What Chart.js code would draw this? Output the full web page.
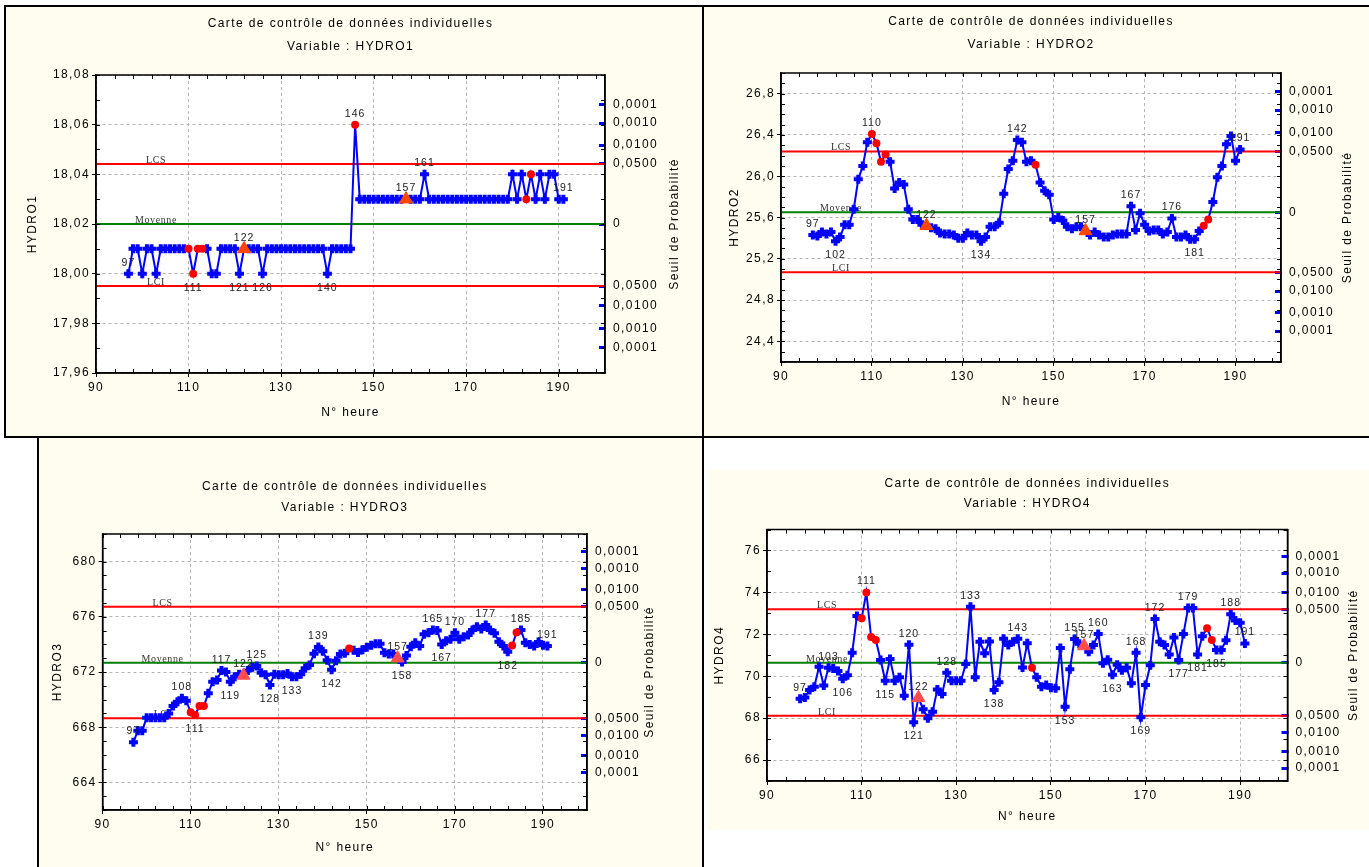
<!DOCTYPE html>
<html>
<head>
<meta charset="utf-8">
<script src="https://cdn.jsdelivr.net/npm/chart.js@4.4.1/dist/chart.umd.min.js"></script>
<style>
  html, body { margin: 0; padding: 0; background: #fff; }
  #page { position: relative; width: 1369px; height: 867px; overflow: hidden; }
  .cell { position: absolute; background: #fffdf0; }
  .rule { position: absolute; background: #000; }
  canvas { position: absolute; left: 0; top: 0; }
</style>
</head>
<body>
<div id="page">
  <div class="cell" style="left:5px;top:6px;width:698px;height:431px"></div>
  <div class="cell" style="left:703px;top:6px;width:666px;height:431px"></div>
  <div class="cell" style="left:38px;top:437px;width:665px;height:430px"></div>
  <div class="cell" style="left:708px;top:470px;width:661px;height:360px"></div>
  <div class="rule" style="left:5px;top:5px;width:1364px;height:2px"></div>
  <div class="rule" style="left:4px;top:5px;width:2px;height:433px"></div>
  <div class="rule" style="left:702px;top:5px;width:2px;height:862px"></div>
  <div class="rule" style="left:4px;top:436px;width:1365px;height:2px"></div>
  <div class="rule" style="left:37px;top:436px;width:2px;height:431px"></div>
  <canvas id="c1" width="1369" height="867"></canvas>
  <canvas id="c2" width="1369" height="867"></canvas>
  <canvas id="c3" width="1369" height="867"></canvas>
  <canvas id="c4" width="1369" height="867"></canvas>
</div>
<script>
// N° heure (categories)
const hours = [
  97, 98, 99, 100, 101, 102, 103, 104, 105, 106,
  107, 108, 109, 110, 111, 112, 113, 114, 115, 116,
  117, 118, 119, 120, 121, 122, 123, 124, 125, 126,
  127, 128, 129, 130, 131, 132, 133, 134, 135, 136,
  137, 138, 139, 140, 141, 142, 143, 144, 145, 146,
  147, 148, 149, 150, 151, 152, 153, 154, 155, 156,
  157, 158, 159, 160, 161, 162, 163, 164, 165, 166,
  167, 168, 169, 170, 171, 172, 173, 174, 175, 176,
  177, 178, 179, 180, 181, 182, 183, 184, 185, 186,
  187, 188, 189, 190, 191
];

const hydro1 = [
  18.00, 18.01, 18.01, 18.00, 18.01, 18.01, 18.00, 18.01, 18.01, 18.01,
  18.01, 18.01, 18.01, 18.01, 18.00, 18.01, 18.01, 18.01, 18.00, 18.00,
  18.01, 18.01, 18.01, 18.01, 18.00, 18.01, 18.01, 18.01, 18.01, 18.00,
  18.01, 18.01, 18.01, 18.01, 18.01, 18.01, 18.01, 18.01, 18.01, 18.01,
  18.01, 18.01, 18.01, 18.00, 18.01, 18.01, 18.01, 18.01, 18.01, 18.06,
  18.03, 18.03, 18.03, 18.03, 18.03, 18.03, 18.03, 18.03, 18.03, 18.03,
  18.03, 18.03, 18.03, 18.03, 18.04, 18.03, 18.03, 18.03, 18.03, 18.03,
  18.03, 18.03, 18.03, 18.03, 18.03, 18.03, 18.03, 18.03, 18.03, 18.03,
  18.03, 18.03, 18.03, 18.04, 18.03, 18.04, 18.03, 18.04, 18.03, 18.04,
  18.03, 18.04, 18.04, 18.03, 18.03
];

const hydro2 = [
  25.43, 25.42, 25.46, 25.44, 25.46, 25.37, 25.41, 25.53, 25.53, 25.68,
  25.97, 26.10, 26.33, 26.41, 26.32, 26.14, 26.21, 26.14, 25.88, 25.94,
  25.92, 25.68, 25.58, 25.58, 25.53, 25.52, 25.50, 25.49, 25.45, 25.44,
  25.44, 25.43, 25.40, 25.40, 25.45, 25.43, 25.43, 25.37, 25.41, 25.51,
  25.51, 25.55, 25.83, 26.07, 26.15, 26.35, 26.33, 26.14, 26.15, 26.11,
  25.94, 25.86, 25.82, 25.58, 25.60, 25.57, 25.51, 25.49, 25.51, 25.51,
  25.47, 25.43, 25.46, 25.43, 25.41, 25.41, 25.43, 25.44, 25.44, 25.44,
  25.71, 25.48, 25.64, 25.53, 25.47, 25.48, 25.48, 25.44, 25.46, 25.59,
  25.41, 25.41, 25.43, 25.39, 25.39, 25.47, 25.52, 25.58, 25.75, 25.99,
  26.10, 26.31, 26.39, 26.15, 26.26
];

const hydro3 = [
  666.91, 667.75, 667.75, 668.69, 668.69, 668.69, 668.69, 668.69, 669.00, 669.54,
  669.85, 670.09, 669.92, 669.08, 668.88, 669.54, 669.54, 670.46, 671.30, 671.42,
  672.10, 672.00, 671.30, 671.66, 671.83, 671.75, 672.10, 672.34, 672.43, 671.95,
  671.80, 671.06, 671.83, 671.80, 671.80, 671.90, 671.66, 671.66, 671.83, 672.27,
  672.51, 673.32, 673.81, 673.51, 672.85, 672.17, 672.81, 673.30, 673.35, 673.71,
  673.57, 673.41, 673.62, 673.79, 673.93, 674.05, 674.05, 673.40, 673.30, 673.30,
  673.00, 672.72, 673.20, 673.83, 674.12, 673.88, 674.73, 674.85, 675.04, 675.00,
  674.00, 674.27, 674.37, 674.85, 674.37, 674.56, 674.68, 675.04, 675.28, 675.12,
  675.41, 675.04, 674.80, 674.20, 673.88, 673.47, 673.92, 674.87, 675.04, 674.12,
  674.00, 673.88, 674.17, 673.93, 673.88
];

const hydro4 = [
  68.92, 68.99, 69.34, 69.50, 70.45, 69.56, 70.40, 70.37, 70.25, 69.88,
  70.05, 71.12, 72.87, 72.76, 74.00, 71.87, 71.73, 70.77, 69.78, 70.82,
  69.78, 69.95, 69.07, 71.50, 67.80, 68.97, 68.42, 68.00, 68.31, 69.37,
  69.15, 70.16, 69.78, 69.78, 69.78, 70.58, 73.31, 69.95, 71.64, 71.09,
  71.66, 69.34, 69.71, 71.79, 71.49, 71.64, 71.79, 70.41, 71.57, 70.40,
  69.95, 69.50, 69.58, 69.45, 69.42, 71.34, 68.54, 70.33, 71.77, 71.55,
  71.44, 71.17, 71.49, 72.01, 70.62, 70.78, 70.07, 70.55, 70.28, 70.40,
  69.66, 71.12, 68.04, 69.58, 70.52, 72.73, 71.64, 71.49, 71.04, 71.85,
  70.77, 72.01, 73.26, 73.26, 71.04, 71.91, 72.29, 71.73, 71.25, 71.25,
  71.71, 72.96, 72.66, 72.55, 71.56
];

// control limits per variable: HYDRO1..HYDRO4
const moyenne = [18.02, 25.65, 672.67, 70.64];
const lcs = [18.0442, 26.24, 676.72, 73.19];
const lci = [17.9950, 25.07, 668.65, 68.11];

// points flagged by the chart
const redHours = [110, 111, 112, 113, 146, 183, 184];
const triangleHours = [122, 157];

// numbered points (above / below the marker)
const labelsAbove1 = [97, 122, 146, 157, 161, 191];
const labelsBelow1 = [111, 121, 126, 140];
const labelsAbove2 = [97, 110, 122, 142, 157, 167, 176, 191];
const labelsBelow2 = [102, 134, 181];
const labelsAbove3 = [97, 108, 117, 122, 125, 139, 157, 165, 170, 177, 185, 191];
const labelsBelow3 = [111, 119, 128, 133, 142, 158, 167, 182];
const labelsAbove4 = [97, 103, 111, 120, 122, 128, 133, 143, 155, 157, 160, 168, 172, 179, 188, 191];
const labelsBelow4 = [106, 115, 121, 138, 153, 163, 169, 177, 181, 185];

// tick values
const xTicks = [90, 110, 130, 150, 170, 190];
const yTicks1 = [17.96, 17.98, 18.00, 18.02, 18.04, 18.06, 18.08];
const yTicks2 = [24.4, 24.8, 25.2, 25.6, 26.0, 26.4, 26.8];
const yTicks3 = [664, 668, 672, 676, 680];
const yTicks4 = [66, 68, 70, 72, 74, 76];

// probability scale (two-sided normal quantiles, 0,0500 sits on the limits)
const seuilLabels = ['0,0001', '0,0010', '0,0100', '0,0500'];
const seuilZ = [3.891, 3.291, 2.576, 1.96];

const TITLE = 'Carte de contrôle de données individuelles';
const W = 1369;
const H = 867;

const panels = [
  {
    canvas: 'c1', name: 'HYDRO1', values: hydro1, k: 0, yTicks: yTicks1, decimals: 2,
    above: labelsAbove1, below: labelsBelow1, triColor: '#ff4500',
    plot: { left: 96, right: 605, top: 75, bottom: 373 }, yRange: [17.96, 18.08], yMinor: 0.01,
    titleY: [24, 47], yTitleX: 33, seuilX: 675, xTitleY: 413
  },
  {
    canvas: 'c2', name: 'HYDRO2', values: hydro2, k: 1, yTicks: yTicks2, decimals: 1,
    above: labelsAbove2, below: labelsBelow2, triColor: '#ff4500',
    plot: { left: 781, right: 1281, top: 73, bottom: 362 }, yRange: [24.2, 27.0], yMinor: 0.1,
    titleY: [22, 45], yTitleX: 735, seuilX: 1348, xTitleY: 402
  },
  {
    canvas: 'c3', name: 'HYDRO3', values: hydro3, k: 2, yTicks: yTicks3, decimals: 0,
    above: labelsAbove3, below: labelsBelow3, triColor: '#ff4d4d',
    plot: { left: 102.6, right: 587, top: 534, bottom: 810 }, yRange: [662, 682], yMinor: 1,
    titleY: [487, 508], yTitleX: 58, seuilX: 650, xTitleY: 848
  },
  {
    canvas: 'c4', name: 'HYDRO4', values: hydro4, k: 3, yTicks: yTicks4, decimals: 0,
    above: labelsAbove4, below: labelsBelow4, triColor: '#ff4d4d',
    plot: { left: 767, right: 1287.5, top: 529.5, bottom: 781 }, yRange: [65, 77], yMinor: 1,
    titleY: [484, 504], yTitleX: 720, seuilX: 1354, xTitleY: 817
  }
];

Chart.defaults.font.family = "'Liberation Sans', Arial, sans-serif";
Chart.defaults.font.size = 12;
Chart.defaults.color = '#000';

// axis boxes are wide enough that Chart.js does not clip the tick labels
const AXIS_W = 80;
const AXIS_H = 30;

function fixBox(size, vertical) {
  return (scale) => {
    if (vertical) {
      scale.width = size;
    } else {
      scale.height = size;
    }
    scale.paddingLeft = scale.paddingRight = scale.paddingTop = scale.paddingBottom = 0;
  };
}

function seuilValues(k) {
  const up = lcs[k] - moyenne[k];
  const dn = moyenne[k] - lci[k];
  const lower = seuilZ.map(z => moyenne[k] - dn * z / 1.96);
  const upper = seuilZ.slice().reverse().map(z => moyenne[k] + up * z / 1.96);
  return [...lower, moyenne[k], ...upper];
}

const seuilTickLabels = [...seuilLabels, '0', ...seuilLabels.slice().reverse()];

function text(ctx, str, x, y, font, opts) {
  const o = Object(opts);
  ctx.save();
  ctx.font = font;
  ctx.fillStyle = o.color || '#000';
  ctx.letterSpacing = o.spacing || '1.4px';
  ctx.textAlign = o.align || 'center';
  ctx.textBaseline = o.baseline || 'middle';
  ctx.translate(x, y);
  if (o.rotate) {
    ctx.rotate(o.rotate);
  }
  ctx.fillText(str, 0, 0);
  ctx.restore();
}

function panelPlugin(p) {
  const sans = "'Liberation Sans', Arial, sans-serif";
  const serif = "'Liberation Serif', 'Times New Roman', serif";

  return {
    id: 'hydroPanel',
    beforeDraw(chart) {
      const { ctx, chartArea: a } = chart;
      ctx.letterSpacing = '1.4px';
      ctx.save();
      ctx.fillStyle = '#fff';
      ctx.fillRect(a.left, a.top, a.right - a.left, a.bottom - a.top);
      ctx.restore();
    },
    beforeDatasetsDraw(chart) {
      const { ctx, chartArea: a, scales } = chart;
      const x = a.left + 60;
      const font = '10px ' + serif;
      const opts = { color: '#333', baseline: 'alphabetic', spacing: '0.6px' };
      text(ctx, 'LCS', x, scales.y.getPixelForValue(lcs[p.k]) - 1, font, opts);
      text(ctx, 'Moyenne', x, scales.y.getPixelForValue(moyenne[p.k]) - 1, font, opts);
      text(ctx, 'LCI', x, scales.y.getPixelForValue(lci[p.k]) - 1, font, opts);
    },
    afterDatasetsDraw(chart) {
      const { ctx } = chart;
      const meta = chart.getDatasetMeta(0);
      const font = '10.5px ' + sans;

      p.above.forEach((h) => {
        const pt = meta.data[hours.indexOf(h)];
        text(ctx, String(h), pt.x, pt.y - 11, font, { color: '#222', spacing: '1px' });
      });
      p.below.forEach((h) => {
        const pt = meta.data[hours.indexOf(h)];
        text(ctx, String(h), pt.x, pt.y + 14, font, { color: '#222', spacing: '1px' });
      });
    },
    afterDraw(chart) {
      const { ctx, chartArea: a, scales } = chart;

      // minor ticks, pointing inward on all four sides
      ctx.save();
      ctx.strokeStyle = '#000';
      ctx.lineWidth = 1;
      ctx.beginPath();
      for (let v = 90; v <= 200; v += 4) {
        const px = Math.round(scales.x.getPixelForValue(v)) + 0.5;
        ctx.moveTo(px, a.top);
        ctx.lineTo(px, a.top + 4);
        ctx.moveTo(px, a.bottom);
        ctx.lineTo(px, a.bottom - 4);
      }
      const [y0, y1] = p.yRange;
      const steps = Math.round((y1 - y0) / p.yMinor);
      for (let i = 0; i <= steps; i++) {
        const py = Math.round(scales.y.getPixelForValue(y0 + i * p.yMinor)) + 0.5;
        ctx.moveTo(a.left, py);
        ctx.lineTo(a.left + 4, py);
        ctx.moveTo(a.right, py);
        ctx.lineTo(a.right - 4, py);
      }
      ctx.stroke();

      ctx.lineWidth = 1.5;
      ctx.strokeRect(a.left, a.top, a.right - a.left, a.bottom - a.top);
      ctx.restore();

      const font = '12px ' + sans;
      const cx = (a.left + a.right) / 2;
      const cy = (a.top + a.bottom) / 2;
      text(ctx, TITLE, cx, p.titleY[0], font);
      text(ctx, 'Variable : ' + p.name, cx, p.titleY[1], font);
      text(ctx, 'N° heure', cx, p.xTitleY, font);
      text(ctx, p.name, p.yTitleX, cy, font, { rotate: -Math.PI / 2 });
      text(ctx, 'Seuil de Probabilité', p.seuilX, cy, font, { rotate: -Math.PI / 2 });
    }
  };
}

function buildChart(p) {
  const points = hours.map((h, i) => ({ x: h, y: p.values[i] }));
  const pick = (list) => list.map(h => points[hours.indexOf(h)]);
  const hidden = new Set([...redHours, ...triangleHours]);
  const limit = (v) => [{ x: 90, y: v }, { x: 200, y: v }];
  const seuil = seuilValues(p.k);

  const grid = () => ({ color: '#b4b4b4', lineWidth: 1, tickLength: 4, tickColor: '#000', tickWidth: 1 });
  const border = () => ({ display: true, color: '#000', width: 1.5, dash: [3, 3] });

  return new Chart(document.getElementById(p.canvas), {
    type: 'scatter',
    data: {
      datasets: [
        {
          data: points,
          showLine: true,
          borderColor: '#0000ff',
          borderWidth: 2,
          pointStyle: 'cross',
          pointRadius: (c) => (hidden.has(hours[c.dataIndex]) ? 0 : 4.5),
          pointBorderColor: '#0000ff',
          pointBorderWidth: 4,
          order: 1
        },
        {
          data: pick(redHours),
          pointStyle: 'circle',
          pointRadius: 4,
          pointBackgroundColor: '#ff0000',
          pointBorderColor: '#ff0000',
          pointBorderWidth: 0,
          order: 0
        },
        {
          data: pick(triangleHours),
          pointStyle: 'triangle',
          pointRadius: 7.5,
          pointBackgroundColor: p.triColor,
          pointBorderColor: p.triColor,
          pointBorderWidth: 1,
          order: 0
        },
        { data: limit(lcs[p.k]), showLine: true, borderColor: '#ff0000', borderWidth: 2, pointRadius: 0, order: 2 },
        { data: limit(moyenne[p.k]), showLine: true, borderColor: '#008000', borderWidth: 2, pointRadius: 0, order: 2 },
        { data: limit(lci[p.k]), showLine: true, borderColor: '#ff0000', borderWidth: 2, pointRadius: 0, order: 2 }
      ]
    },
    options: {
      responsive: false,
      animation: false,
      devicePixelRatio: 1,
      events: [],
      layout: {
        padding: {
          left: p.plot.left - AXIS_W,
          right: W - p.plot.right - AXIS_W,
          top: p.plot.top,
          bottom: H - p.plot.bottom - AXIS_H
        }
      },
      plugins: { legend: { display: false }, tooltip: { enabled: false } },
      scales: {
        x: {
          type: 'linear', bounds: 'data', min: 90, max: 200,
          afterBuildTicks: (s) => { s.ticks = xTicks.map(v => ({ value: v })); },
          afterFit: fixBox(AXIS_H, false),
          ticks: { autoSkip: false, maxRotation: 0, padding: 3, callback: (v) => String(v) },
          grid: grid(),
          border: border()
        },
        y: {
          type: 'linear', position: 'left', bounds: 'data', min: p.yRange[0], max: p.yRange[1],
          afterBuildTicks: (s) => { s.ticks = p.yTicks.map(v => ({ value: v })); },
          afterFit: fixBox(AXIS_W, true),
          ticks: { autoSkip: false, padding: 2, callback: (v) => Number(v).toFixed(p.decimals).replace('.', ',') },
          grid: grid(),
          border: border()
        },
        y2: {
          type: 'linear', position: 'right', bounds: 'data', min: p.yRange[0], max: p.yRange[1],
          afterBuildTicks: (s) => { s.ticks = seuil.map(v => ({ value: v })); },
          afterFit: fixBox(AXIS_W, true),
          ticks: { autoSkip: false, padding: 14, callback: (v, i) => seuilTickLabels[i] },
          grid: { drawOnChartArea: false, tickLength: -6, tickWidth: 3, tickColor: '#0000ff' },
          border: { display: true, color: '#000', width: 1.5 }
        }
      }
    },
    plugins: [panelPlugin(p)]
  });
}

panels.forEach(buildChart);
</script>
</body>
</html>
